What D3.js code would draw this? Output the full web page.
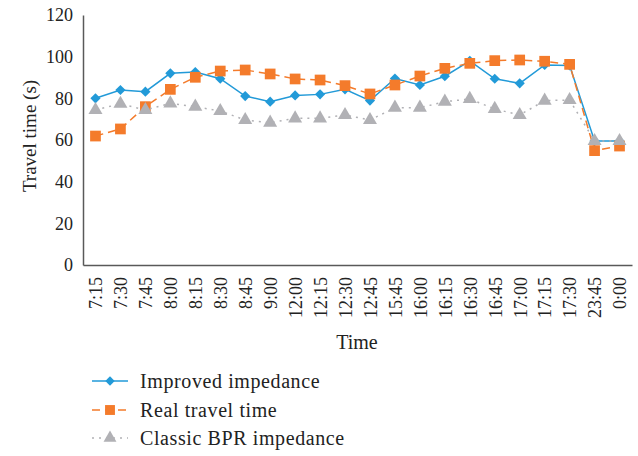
<!DOCTYPE html>
<html><head><meta charset="utf-8">
<script src="https://cdn.jsdelivr.net/npm/d3@7"></script>
<style>body{margin:0;background:#fff}svg{display:block}svg text{font-family:"Liberation Serif","DejaVu Serif",serif !important;fill:#222}</style>
</head><body><div id="c"></div>
<script>
const categories = ["7:15","7:30","7:45","8:00","8:15","8:30","8:45","9:00","12:00","12:15","12:30","12:45","15:45","16:00","16:15","16:30","16:45","17:00","17:15","17:30","23:45","0:00"];
const improved = [80.0,84.0,83.2,92.0,92.6,89.4,81.1,78.4,81.4,81.9,84.3,78.9,89.5,86.4,90.6,98.0,89.4,87.2,96.0,95.8,59.5,59.5];
const realTime = [61.9,65.3,76.0,84.3,90.1,93.1,93.6,91.7,89.3,88.8,86.1,82.1,86.4,90.7,94.4,96.8,98.1,98.4,97.8,96.3,54.9,57.1];
const classic = [74.4,77.4,74.4,77.6,76.0,73.9,69.6,68.3,70.4,70.4,72.0,69.6,75.5,75.5,78.4,79.7,74.9,72.0,78.9,79.2,59.5,59.5];
const yTicks = [0,20,40,60,80,100,120];
const seriesNames = ["Improved impedance","Real travel time","Classic BPR impedance"];

const W=638,H=456;
const FONT="'Liberation Serif', 'DejaVu Serif', serif";
const svg=d3.select("#c").append("svg").attr("width",W).attr("height",H);
const x=d3.scalePoint().domain(categories).range([83,632]).padding(0.5);
const y=d3.scaleLinear().domain([0,120]).range([265,15]);

const axisColor="#595959";
const gy=svg.append("g").attr("transform","translate(83,0)")
  .call(d3.axisLeft(y).tickValues(yTicks).tickSize(0).tickPadding(10))
  .attr("font-family",FONT).attr("font-size",18);
gy.select(".domain").attr("stroke",axisColor).attr("stroke-width",1.5);
gy.selectAll("text").attr("fill","#222");

const gx=svg.append("g").attr("transform","translate(0,265)")
  .call(d3.axisBottom(x).tickSize(0).tickPadding(0))
  .attr("font-family",FONT).attr("font-size",18);
gx.select(".domain").attr("stroke",axisColor).attr("stroke-width",1.5);
gx.selectAll("text").attr("fill","#222")
  .attr("transform","rotate(-90)").attr("text-anchor","end").attr("x",-12).attr("y",0).attr("dy","0.35em");

svg.append("text").attr("transform","translate(36,136) rotate(-90)").attr("text-anchor","middle")
  .attr("font-family",FONT).attr("font-size",19).text("Travel time (s)");
svg.append("text").attr("x",357).attr("y",349).attr("text-anchor","middle")
  .attr("font-family",FONT).attr("font-size",20).text("Time");

const styles=[
  {data:improved,color:"#229ad8",dash:null,sym:d3.symbolSquare,rot:45,size:52,width:1.5},
  {data:realTime,color:"#f47b2b",dash:"8,5",sym:d3.symbolSquare,rot:0,size:115,width:1.5},
  {data:classic,color:"#b1b1b5",dash:"2,5",sym:d3.symbolTriangle,rot:0,size:85,width:1.5}
];
const line=d3.line().x((d,i)=>x(categories[i])).y(d=>y(d));
styles.forEach(s=>{
  svg.append("path").datum(s.data).attr("d",line).attr("fill","none")
    .attr("stroke",s.color).attr("stroke-width",s.width).attr("stroke-dasharray",s.dash);
  svg.append("g").selectAll("path").data(s.data).join("path")
    .attr("transform",(d,i)=>`translate(${x(categories[i])},${y(d)}) rotate(${s.rot})`)
    .attr("d",d3.symbol().type(s.sym).size(s.size)).attr("fill",s.color);
});

const leg=svg.append("g");
const ly=[381,410,438];
styles.forEach((s,i)=>{
  leg.append("line").attr("x1",92).attr("x2",128).attr("y1",ly[i]).attr("y2",ly[i])
    .attr("stroke",s.color).attr("stroke-width",1.5).attr("stroke-dasharray",s.dash);
  leg.append("path").attr("transform",`translate(110,${ly[i]}) rotate(${s.rot})`)
    .attr("d",d3.symbol().type(s.sym).size(s.size*0.85)).attr("fill",s.color);
  leg.append("text").attr("x",140).attr("y",ly[i]).attr("dy","0.35em")
    .attr("font-family",FONT).attr("font-size",20).attr("letter-spacing",0.6).text(seriesNames[i]);
});
</script></body></html>
